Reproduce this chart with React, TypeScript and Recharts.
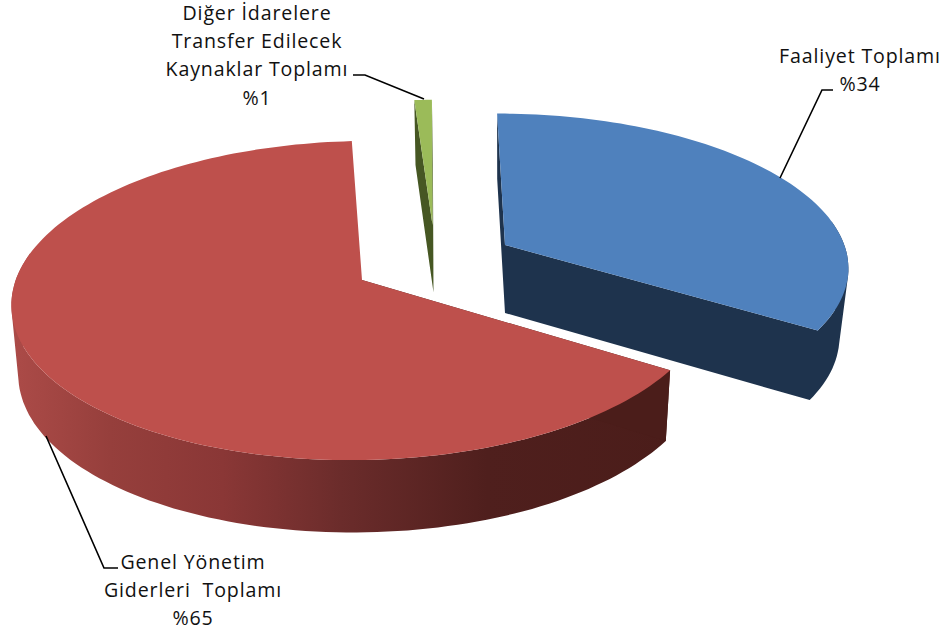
import React from "react";
import { PieChart, Pie } from "recharts";

const categories = ["Faaliyet Toplamı", "Genel Yönetim Giderleri  Toplamı", "Diğer İdarelere Transfer Edilecek Kaynaklar Toplamı"];
const shares = [34, 65, 1];
const topColors = ["#4F81BD", "#BE504C", "#9BBB59"];
const sideColors = ["#1E334D", "url(#redWall)", "#465723"];
const labelLines = [
  ["Faaliyet Toplamı", "%34"],
  ["Genel Yönetim", "Giderleri  Toplamı", "%65"],
  ["Diğer İdarelere", "Transfer Edilecek", "Kaynaklar Toplamı", "%1"],
];

// view geometry of each exploded slice (screen-space apex, scale, skew)
const sliceViews = [
  { ax: 505, ay: 245, sx: 0.975, sy: 0.945, shear: 0.06 },
  { ax: 362, ay: 280, sx: 0.995, sy: 1, shear: -0.065 },
  { ax: 432.5, ay: 225, sx: 0.91, sy: 0.9, shear: 0.005 },
];
const labelViews = [
  { x: 860, y: 63, leader: "M833 90 L822 90 L780 178" },
  { x: 193, y: 569, leader: "M118 568 L104 568 L46 436" },
  { x: 257, y: 20, leader: "M353 75 L365 75 L424 99" },
];

const data = categories.map((name, i) => ({ name, value: shares[i] }));

const RX = 348;
const RY = 157;
const PERSPECTIVE = 0.1285;
const VANISH_X = 505;

type Pt = [number, number];

function project(thetaDeg: number, r: number, i: number): Pt {
  const view = sliceViews[i];
  const t = (thetaDeg * Math.PI) / 180;
  const u = Math.sin(t) * r;
  const v = -Math.cos(t) * r;
  const s = 1 / (1 - PERSPECTIVE * v);
  const dy = RY * view.sy * v * s;
  return [view.ax + RX * view.sx * u * s + view.shear * dy, view.ay + dy];
}

function drop([x, y]: Pt): Pt {
  const k = x > VANISH_X ? 0.026 : 0.014;
  return [x - (x - VANISH_X) * k, y + 68 + 0.02 * (y - 245)];
}

const toPath = (pts: Pt[]) =>
  "M" + pts.map(([x, y]) => `${x.toFixed(1)} ${y.toFixed(1)}`).join(" L") + " Z";

// every quad gets the same winding, so the non-zero fill merges them without seams
function orient(pts: Pt[]): Pt[] {
  let area = 0;
  pts.forEach(([x, y], j) => {
    const [nx, ny] = pts[(j + 1) % pts.length];
    area += x * ny - nx * y;
  });
  return area < 0 ? [...pts].reverse() : pts;
}

function Slice3D(props: any) {
  const { startAngle, endAngle, index } = props;
  const i: number = index ?? 0;
  const from = 90 - startAngle;
  const to = 90 - endAngle;
  const n = Math.max(2, Math.ceil(Math.abs(to - from) / 1.5));
  const thetas: number[] = [];
  for (let k = 0; k <= n; k++) thetas.push(from + ((to - from) * k) / n);
  const arc: Pt[] = thetas.map((t) => project(t, 1, i));
  const apex = project(0, 0, i);
  const side = sideColors[i];
  const endFill = i === 1 ? "#4B1D1A" : side;
  const frontQuads: string[] = [];
  arc.slice(0, -1).forEach((p, k) => {
    if (Math.cos((thetas[k] * Math.PI) / 180) < 0.17) {
      frontQuads.push(toPath(orient([p, arc[k + 1], drop(arc[k + 1]), drop(p)])));
    }
  });
  const ends = [arc[0], arc[n]].map((p) => toPath(orient([apex, p, drop(p), drop(apex)])));
  return (
    <g>
      <defs>
        <linearGradient id="redWall" gradientUnits="userSpaceOnUse" x1="11" y1="0" x2="672" y2="0">
          <stop offset="0" stopColor="#AC4B48" />
          <stop offset="0.15" stopColor="#963F3C" />
          <stop offset="0.32" stopColor="#8A3736" />
          <stop offset="0.5" stopColor="#6B2C2B" />
          <stop offset="0.72" stopColor="#4F1F1D" />
          <stop offset="1" stopColor="#4B1D1A" />
        </linearGradient>
      </defs>
      {i === 1 ? (
        <>
          <path d={frontQuads.join(" ")} fill={side} />
          <path d={ends[0]} fill={endFill} />
        </>
      ) : (
        <path d={[...ends, ...frontQuads].join(" ")} fill={side} />
      )}
      <path d={toPath([apex, ...arc])} fill={topColors[i]} />
    </g>
  );
}

function SliceLabel(props: any) {
  const i: number = props.index ?? 0;
  const view = labelViews[i];
  return (
    <g>
      <path d={view.leader} fill="none" stroke="#000" strokeWidth={1.6} />
      {labelLines[i].map((line, k) => (
        <text
          key={k}
          x={view.x}
          y={view.y + k * 28.2}
          textAnchor="middle"
          fontFamily="'Open Sans', sans-serif"
          fontSize={19.6}
          letterSpacing={0.85}
          fill="#111"
          style={{ whiteSpace: "pre" }}
        >
          {line}
        </text>
      ))}
    </g>
  );
}

export default function App() {
  return (
    <div style={{ position: "absolute", left: 0, top: 0, width: 946, height: 635, background: "#fff" }}>
      <PieChart width={946} height={635} margin={{ top: 0, right: 0, bottom: 0, left: 0 }}>
        <Pie
          data={data}
          dataKey="value"
          nameKey="name"
          cx={430}
          cy={270}
          outerRadius={348}
          startAngle={90}
          endAngle={-270}
          stroke="none"
          shape={Slice3D}
          label={SliceLabel}
          labelLine={false}
          isAnimationActive={false}
        />
      </PieChart>
    </div>
  );
}
